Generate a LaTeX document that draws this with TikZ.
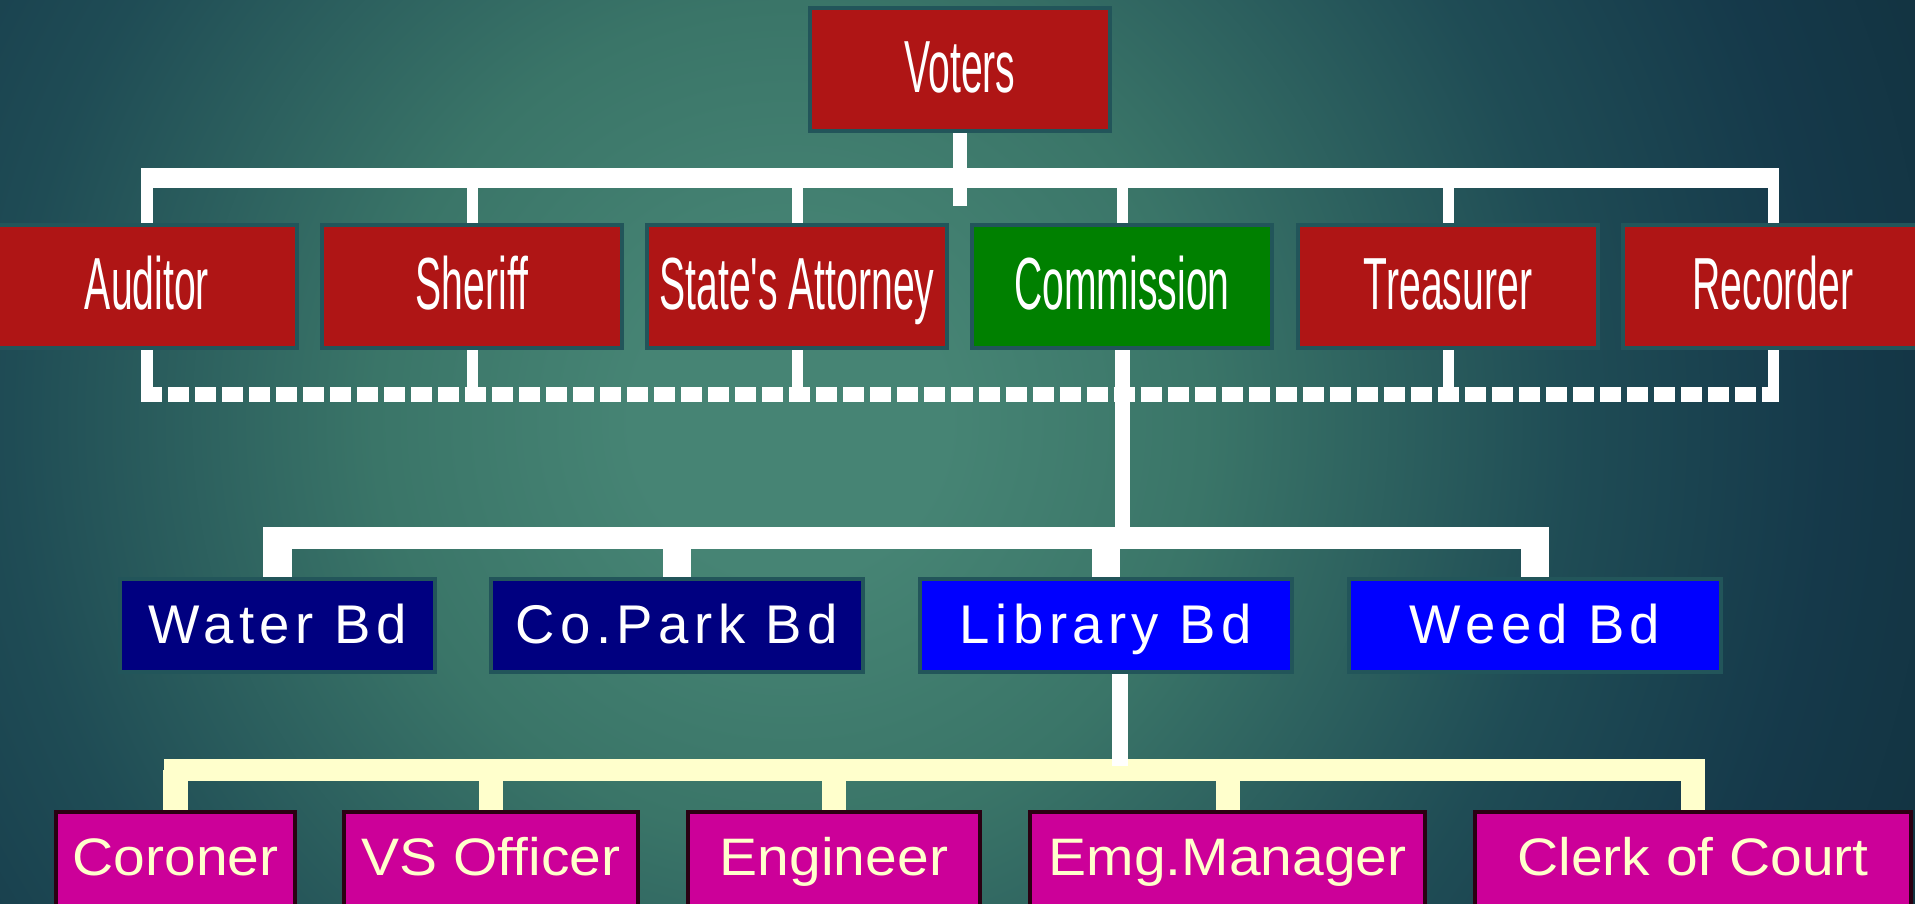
\documentclass[tikz,border=0pt]{standalone}
\usepackage{fontspec}
\setmainfont{Liberation Sans}
\newfontfamily\narrowfont[FakeStretch=0.53]{Liberation Sans}
\newfontfamily\boardfont[LetterSpace=10]{Liberation Sans}
\newfontfamily\officefont[FakeStretch=1.08]{Liberation Sans}

\definecolor{bglight}{HTML}{468474}
\definecolor{bgmid}{HTML}{3A7568}
\definecolor{bgdeep}{HTML}{1F4C55}
\definecolor{bgdeeper}{HTML}{15394A}
\definecolor{bgdark}{HTML}{12323F}
\definecolor{electred}{HTML}{AF1515}
\definecolor{commgreen}{HTML}{008000}
\definecolor{boardnavy}{HTML}{000080}
\definecolor{boardblue}{HTML}{0000FF}
\definecolor{officemag}{HTML}{CC0099}
\definecolor{paleyellow}{HTML}{FFFFCC}
\definecolor{boxedge}{HTML}{22555A}
\definecolor{officeedge}{HTML}{2A0012}

\pgfdeclareradialshading{bgshade}{\pgfpoint{0bp}{0bp}}{color(0bp)=(bglight); color(3bp)=(bglight); color(8bp)=(bgmid); color(15bp)=(bgdeep); color(20bp)=(bgdeeper); color(24bp)=(bgdark); color(50bp)=(bgdark)}

\begin{document}
\begin{tikzpicture}[x=0.01cm,y=-0.01cm,
  topbox/.style={draw=boxedge, line width=0.04cm, fill=electred, minimum width=3cm, minimum height=1.23cm, inner sep=0pt, text=white, font=\narrowfont\fontsize{21}{21}\selectfont, text height=0.55cm, text depth=0.1cm},
  boardbox/.style={draw=boxedge, line width=0.04cm, fill=boardblue, minimum width=3.72cm, minimum height=0.93cm, inner sep=0pt, text=white, font=\boardfont\fontsize{15.5}{16}\selectfont, text height=0.45cm, text depth=0.1cm},
  officebox/.style={draw=officeedge, line width=0.04cm, fill=officemag, minimum height=1.28cm, inner sep=0pt, text=paleyellow, font=\officefont\fontsize{15}{15}\selectfont, text height=0.4cm, text depth=0.4cm},
  busline/.style={draw=white, line width=0.2cm},
  dropline/.style={draw=white, line width=0.11cm},
  stemline/.style={draw=white, line width=0.15cm},
  dashbus/.style={draw=white, line width=0.15cm, dash pattern=on 0.21cm off 0.06cm},
  boardbus/.style={draw=white, line width=0.22cm},
  boarddrop/.style={draw=white, line width=0.28cm},
  officebus/.style={draw=paleyellow, line width=0.22cm},
  officedrop/.style={draw=paleyellow, line width=0.24cm}]
\clip (0,0) rectangle (1915,904);
\fill[shading=bgshade] (-510,-880) rectangle (2090,1720);

\node[topbox] at (960,69.5) (voters) {Voters};
\node[topbox] at (147,286.5) (auditor) {Auditor};
\node[topbox] at (472,286.5) (sheriff) {Sheriff};
\node[topbox] at (797,286.5) (attorney) {State's Attorney};
\node[topbox,fill=commgreen] at (1122,286.5) (commission) {Commission};
\node[topbox] at (1448,286.5) (treasurer) {Treasurer};
\node[topbox] at (1773,286.5) (recorder) {Recorder};

\node[boardbox,fill=boardnavy,minimum width=3.15cm] at (277.5,625.5) (water) {Water Bd};
\node[boardbox,fill=boardnavy] at (677,625.5) (copark) {Co.Park Bd};
\node[boardbox] at (1106,625.5) (library) {Library Bd};
\node[boardbox] at (1535,625.5) (weed) {Weed Bd};

\node[officebox,minimum width=2.39cm] at (175.5,876) (coroner) {Coroner};
\node[officebox,minimum width=2.94cm] at (491,876) (vsofficer) {VS Officer};
\node[officebox,minimum width=2.92cm] at (834,876) (engineer) {Engineer};
\node[officebox,minimum width=3.95cm] at (1227.5,876) (emgmanager) {Emg.Manager};
\node[officebox,minimum width=4.36cm] at (1693,876) (clerk) {Clerk of Court};

\coordinate (vstem) at (960,206);
\coordinate (topbusL) at (141,178);
\coordinate (topbusR) at (1779,178);
\coordinate (dashL) at (141,394.5);
\coordinate (dashR) at (1779,394.5);
\coordinate (boardbusL) at (263,538);
\coordinate (boardbusR) at (1549,538);
\coordinate (officebusL) at (164,770);
\coordinate (officebusR) at (1705,770);
\coordinate (libend) at (1120,766);

\draw[busline] (topbusL) -- (topbusR);
\draw[stemline,line width=0.14cm] (voters.south) -- (vstem);
\foreach \n in {auditor,sheriff,attorney,commission,treasurer,recorder}
  \draw[dropline] (\n.north) -- (\n.north |- topbusL);
\draw[dashbus] (dashL) -- (dashR);
\foreach \n in {auditor,sheriff,attorney,treasurer,recorder}
  \draw[dropline] (\n.south) -- (\n.south |- dashL);
\draw[stemline] (commission.south) -- (commission.south |- boardbusL);

\draw[boardbus] (boardbusL) -- (boardbusR);
\foreach \n in {water,copark,library,weed}
  \draw[boarddrop] (\n.north) -- (\n.north |- boardbusL);

\draw[officebus] (officebusL) -- (officebusR);
\foreach \n in {coroner,vsofficer,engineer,emgmanager,clerk}
  \draw[officedrop] (\n.north) -- (\n.north |- officebusL);
\draw[stemline,line width=0.16cm] (libend |- library.south) -- (libend);
\end{tikzpicture}
\end{document}
